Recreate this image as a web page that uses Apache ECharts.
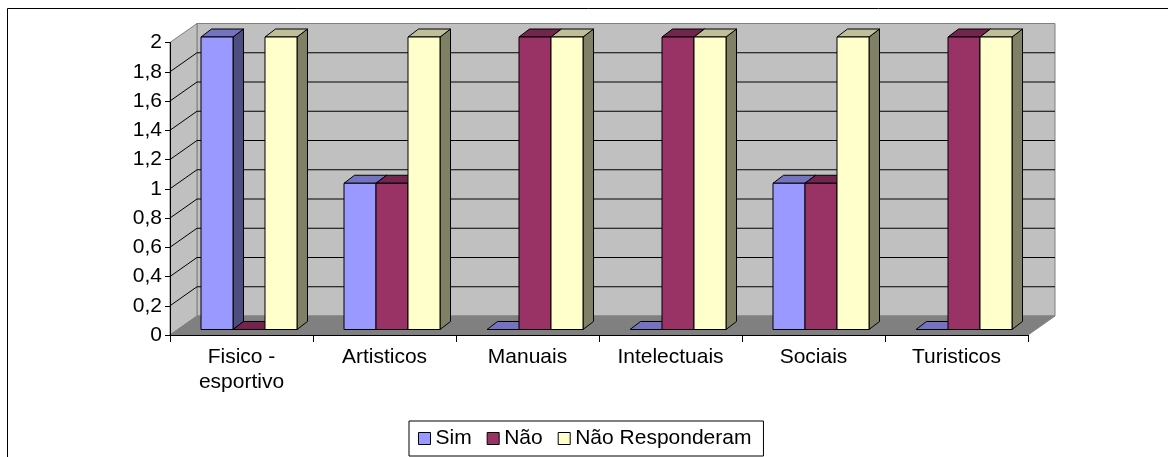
<!DOCTYPE html>
<html>
<head>
<meta charset="utf-8">
<script src="https://cdn.jsdelivr.net/npm/echarts@6/dist/echarts.min.js"></script>
<style>
  html, body { margin: 0; padding: 0; background: #fff; }
  #chart { width: 1168px; height: 457px; }
</style>
</head>
<body>
<div id="chart"></div>
<script>
var CATEGORIES = ['Fisico -\nesportivo', 'Artisticos', 'Manuais', 'Intelectuais', 'Sociais', 'Turisticos'];
var SERIES_NAMES = ['Sim', 'Não', 'Não Responderam'];
var SIM = [2, 1, 0, 0, 1, 0];
var NAO = [0, 1, 2, 2, 1, 2];
var NAO_RESP = [2, 2, 2, 2, 2, 2];
var Y_MIN = 0, Y_MAX = 2, Y_STEP = 0.2;

var FONT = "'Liberation Sans', Arial, sans-serif";
var COLORS = [
  { front: '#9999FF', top: '#7373BF', side: '#4D4D80' },
  { front: '#993366', top: '#73264D', side: '#4D1A33' },
  { front: '#FFFFCC', top: '#BFBF99', side: '#808066' }
];
var WALL_DX = 27, WALL_DY = -19;     // depth of the 3D box
var BAR_FX = 7.5, BAR_FY = -5.5;     // front plane of bars
var BAR_DX = 10.5, BAR_DY = -8;      // bar depth
var BAR_FRAC = 32 / 143;

function wallsRender(params, api) {
  var b0 = api.coord([0, Y_MIN]);
  var band = api.size([1, 0])[0];
  var xl = b0[0] - band / 2;
  var xr = xl + band * CATEGORIES.length;
  var y0 = b0[1];
  var yT = api.coord([0, Y_MAX])[1];
  var children = [];
  children.push({ type: 'polygon', shape: { points: [[xl + WALL_DX, yT + WALL_DY], [xr + WALL_DX, yT + WALL_DY], [xr + WALL_DX, y0 + WALL_DY], [xl + WALL_DX, y0 + WALL_DY]] },
    style: { fill: '#C0C0C0', stroke: '#808080', lineWidth: 1 } });
  children.push({ type: 'polygon', shape: { points: [[xl, yT], [xl + WALL_DX, yT + WALL_DY], [xl + WALL_DX, y0 + WALL_DY], [xl, y0]] },
    style: { fill: '#C0C0C0', stroke: '#808080', lineWidth: 1 } });
  var n = Math.round((Y_MAX - Y_MIN) / Y_STEP);
  for (var i = 1; i < n; i++) {
    var v = Y_MIN + i * Y_STEP;
    var y = api.coord([0, v])[1];
    children.push({ type: 'polyline', shape: { points: [[xl, y], [xl + WALL_DX, y + WALL_DY], [xr + WALL_DX, y + WALL_DY]] },
      style: { fill: null, stroke: '#000', lineWidth: 1 } });
  }
  children.push({ type: 'polygon', shape: { points: [[xl, y0], [xr, y0], [xr + WALL_DX, y0 + WALL_DY], [xl + WALL_DX, y0 + WALL_DY]] },
    style: { fill: '#808080', stroke: '#808080', lineWidth: 1 } });
  return { type: 'group', children: children };
}

function barRender(si) {
  return function (params, api) {
    var ci = api.value(0), v = api.value(1);
    var base = api.coord([ci, Y_MIN]);
    var top = api.coord([ci, v]);
    var band = api.size([1, 0])[0];
    var w = band * BAR_FRAC;
    var x0 = base[0] - 1.5 * w + si * w + BAR_FX;
    var x1 = x0 + w;
    var yb = base[1] + BAR_FY, yt = top[1] + BAR_FY;
    var c = COLORS[si];
    var st = { stroke: '#000', lineWidth: 1 };
    return {
      type: 'group',
      children: [
        { type: 'polygon', shape: { points: [[x1, yt], [x1 + BAR_DX, yt + BAR_DY], [x1 + BAR_DX, yb + BAR_DY], [x1, yb]] },
          style: Object.assign({ fill: c.side }, st) },
        { type: 'polygon', shape: { points: [[x0, yt], [x1, yt], [x1 + BAR_DX, yt + BAR_DY], [x0 + BAR_DX, yt + BAR_DY]] },
          style: Object.assign({ fill: c.top }, st) },
        { type: 'polygon', shape: { points: [[x0, yt], [x1, yt], [x1, yb], [x0, yb]] },
          style: Object.assign({ fill: c.front }, st) }
      ]
    };
  };
}

var seriesData = [SIM, NAO, NAO_RESP];
var series = [{
  type: 'custom', name: '_walls', silent: true, clip: false, z: 1,
  renderItem: wallsRender, data: [[0, 0]]
}];
seriesData.forEach(function (arr, si) {
  series.push({
    type: 'custom', name: SERIES_NAMES[si], clip: false, z: 3 + si,
    itemStyle: { color: COLORS[si].front },
    renderItem: barRender(si),
    encode: { x: 0, y: 1 },
    data: arr.map(function (v, i) { return [i, v]; })
  });
});

var chart = echarts.init(document.getElementById('chart'), null, { renderer: 'canvas' });
chart.setOption({
  animation: false,
  backgroundColor: '#fff',
  textStyle: { fontFamily: FONT },
  grid: { left: 170, right: 140, top: 42.5, bottom: 122 },
  xAxis: {
    type: 'category', data: CATEGORIES, z: 10,
    axisLine: { show: true, lineStyle: { color: '#000', width: 1 } },
    axisTick: { show: true, length: 7, interval: 0, lineStyle: { color: '#000' } },
    axisLabel: { interval: 0, color: '#000', fontSize: 21, fontFamily: FONT, margin: 10, lineHeight: 25 },
    splitLine: { show: false }
  },
  yAxis: {
    type: 'value', min: Y_MIN, max: Y_MAX, interval: Y_STEP, z: 10,
    axisLine: { show: true, lineStyle: { color: '#000', width: 1 } },
    axisTick: { show: true, length: 5, lineStyle: { color: '#000' } },
    axisLabel: { color: '#000', fontSize: 21, fontFamily: FONT, margin: 8,
      formatter: function (v) { return String(Math.round(v * 10) / 10).replace('.', ','); } },
    splitLine: { show: false }
  },
  legend: {
    data: SERIES_NAMES, left: 409, top: 421, orient: 'horizontal',
    icon: 'rect', itemWidth: 12, itemHeight: 12, itemGap: 15,
    padding: [7, 12, 7, 9],
    borderColor: '#000', borderWidth: 1, borderRadius: 0,
    itemStyle: { borderColor: '#000', borderWidth: 1 },
    textStyle: { color: '#000', fontSize: 21, fontFamily: FONT }
  },
  graphic: [{
    type: 'rect', silent: true, z: 0,
    shape: { x: 7.5, y: 8.5, width: 1300, height: 600 },
    style: { fill: null, stroke: '#000', lineWidth: 1 }
  }],
  series: series
});
</script>
</body>
</html>
